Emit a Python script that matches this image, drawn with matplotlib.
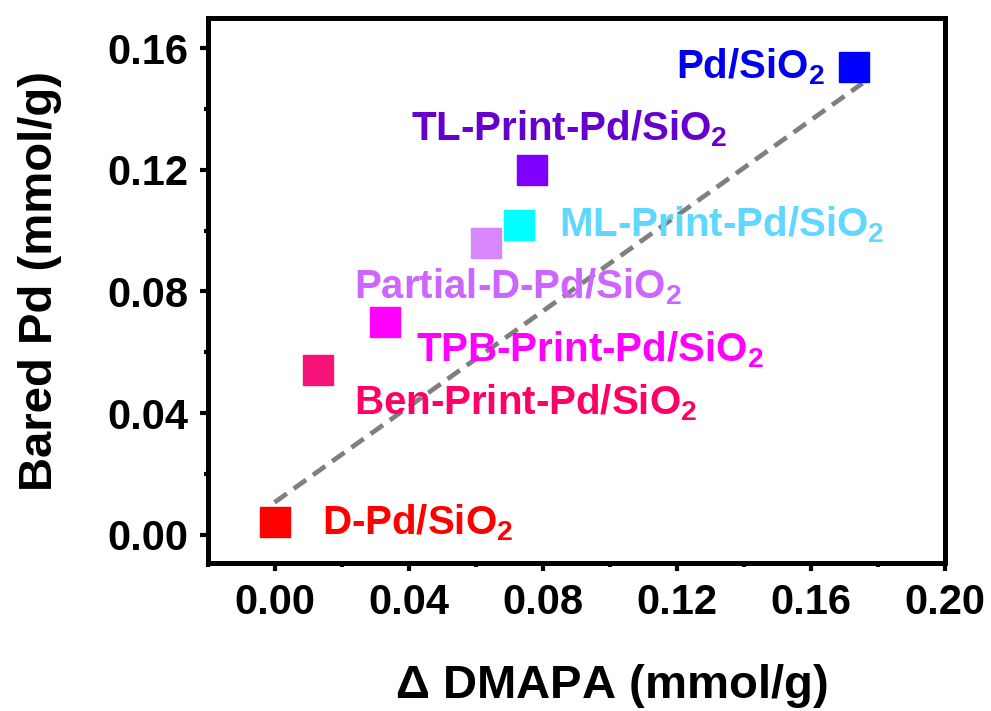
import matplotlib
matplotlib.use("Agg")
import matplotlib.pyplot as plt
from matplotlib.ticker import MultipleLocator

# Data
names = ["D-Pd/SiO$_\\mathbf{2}$", "Ben-Print-Pd/SiO$_\\mathbf{2}$", "TPB-Print-Pd/SiO$_\\mathbf{2}$",
         "Partial-D-Pd/SiO$_\\mathbf{2}$", "ML-Print-Pd/SiO$_\\mathbf{2}$", "TL-Print-Pd/SiO$_\\mathbf{2}$",
         "Pd/SiO$_\\mathbf{2}$"]
delta_dmapa = [0.000, 0.013, 0.033, 0.063, 0.073, 0.077, 0.173]
bared_pd = [0.004, 0.054, 0.070, 0.096, 0.102, 0.120, 0.154]
marker_colors = ["#ff0000", "#f5137a", "#ff00ff", "#d887fa", "#00ffff", "#8000ff", "#0000ff"]
text_colors = ["#ff0000", "#ff0066", "#ff00ff", "#cc66ff", "#5fd7ff", "#6600cc", "#0000ee"]

# label anchor points (data coords) and alignment
label_x = [0.0143, 0.0238, 0.0422, 0.0238, 0.0850, 0.0407, 0.1644]
label_y = [0.0000, 0.0394, 0.0570, 0.0778, 0.0981, 0.1298, 0.1502]
label_ha = ["left", "left", "left", "left", "left", "left", "right"]

# dashed guide line end points
fit_x = [0.0, 0.1755]
fit_y = [0.0106, 0.1485]

plt.rcParams["font.family"] = "Liberation Sans"
plt.rcParams["font.weight"] = "bold"
plt.rcParams["mathtext.fontset"] = "custom"
plt.rcParams["mathtext.rm"] = "Liberation Sans"
plt.rcParams["mathtext.bf"] = "Liberation Sans:bold"

fig = plt.figure(figsize=(9.91, 7.11), dpi=100)
ax = fig.add_axes([0.2094, 0.2075, 0.7437, 0.7672])

ax.plot(fit_x, fit_y, color="#7f7f7f", lw=3.4, linestyle=(0, (3.2, 1.8)), zorder=1)

for i in range(len(names)):
    ax.plot(delta_dmapa[i], bared_pd[i], marker="s", ms=21, color=marker_colors[i],
            mec=marker_colors[i], mew=1, linestyle="none", zorder=3)
    ax.text(label_x[i], label_y[i], names[i], color=text_colors[i], fontsize=29,
            fontweight="bold", ha=label_ha[i], va="baseline", zorder=4)

ax.set_xlim(-0.02, 0.20)
ax.set_ylim(-0.0095, 0.17)
ax.xaxis.set_major_locator(MultipleLocator(0.04))
ax.xaxis.set_minor_locator(MultipleLocator(0.02))
ax.yaxis.set_major_locator(MultipleLocator(0.04))
ax.yaxis.set_minor_locator(MultipleLocator(0.02))
ax.set_xticks([0.00, 0.04, 0.08, 0.12, 0.16, 0.20])
ax.set_xticklabels(["0.00", "0.04", "0.08", "0.12", "0.16", "0.20"])
ax.set_yticks([0.00, 0.04, 0.08, 0.12, 0.16])
ax.set_yticklabels(["0.00", "0.04", "0.08", "0.12", "0.16"])

for s in ax.spines.values():
    s.set_linewidth(3.6)
ax.tick_params(which="major", direction="out", length=6, width=3, labelsize=30, pad=8)
ax.tick_params(which="minor", direction="out", length=3, width=3)

ax.set_xlabel(r"$\Delta$ DMAPA (mmol/g)", fontsize=34, fontweight="bold", va="baseline")
ax.xaxis.set_label_coords(0.548, -0.246)
ax.set_ylabel("Bared Pd (mmol/g)", fontsize=34, fontweight="bold", va="center")
ax.yaxis.set_label_coords(-0.227, 0.518)

fig.savefig("out.png", dpi=100)
